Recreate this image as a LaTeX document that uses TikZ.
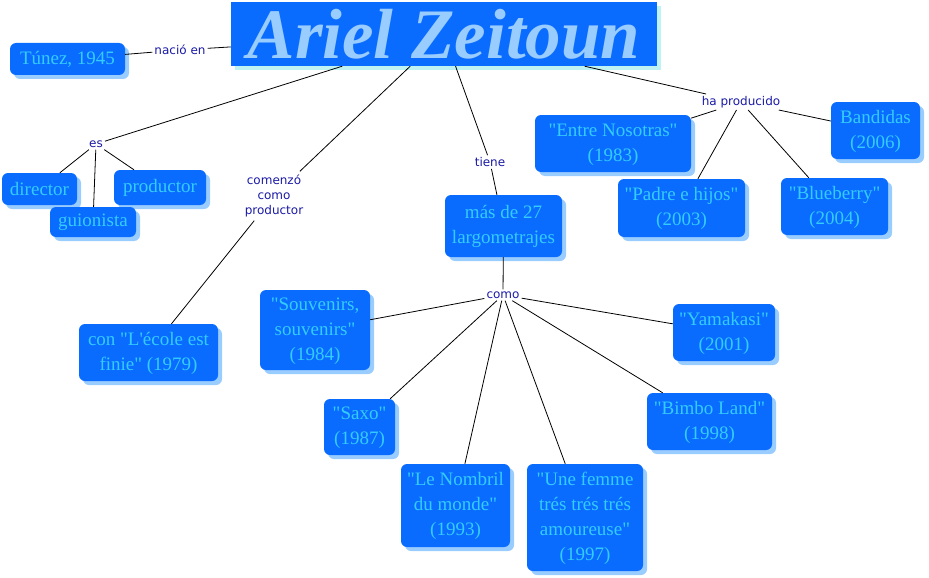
\documentclass[tikz,border=0pt]{standalone}
\usepackage{fontspec}
\setmainfont{Liberation Serif}
\newfontfamily\linkfont{DejaVu Sans}
\usetikzlibrary{shadows}
\definecolor{boxblue}{HTML}{0A6CFF}
\definecolor{textcyan}{HTML}{33CCFF}
\definecolor{shadeblue}{HTML}{99CCFF}
\definecolor{titleshade}{HTML}{BFF2F2}
\definecolor{titletext}{HTML}{99CCFF}
\definecolor{linkblue}{HTML}{1A1AA6}
\newcommand{\qt}{\textquotedbl}
\tikzset{
	concept/.style={fill=boxblue, text=textcyan, rounded corners=6pt, inner sep=0pt,
		font=\fontsize{19}{25}\selectfont,
		drop shadow={shadow xshift=4pt, shadow yshift=-4pt, fill=shadeblue, opacity=1}},
	linking/.style={text=linkblue, inner sep=2pt, font=\linkfont\fontsize{12}{15}\selectfont},
	joint/.style={line width=0.8pt, black},
}
\begin{document}
\begin{tikzpicture}[x=1pt, y=-1pt]
%			\draw[help lines] (0,0) grid (929,578);
			\useasboundingbox (0,0) rectangle (929,578);
			\node[fill=boxblue, text=titletext, minimum width=426pt, minimum height=64pt, inner sep=0pt,
				font=\fontsize{71}{72}\selectfont\bfseries\itshape,
				drop shadow={shadow xshift=4pt, shadow yshift=-4pt, fill=titleshade, opacity=1}] (title) at (444,34) {Ariel Zeitoun};
			\node[concept, minimum width=115pt, minimum height=32pt] (tunez) at (67.5,59) {Túnez, 1945};
			\node[concept, minimum width=75pt, minimum height=32pt] (director) at (39.5,189) {director};
			\node[concept, minimum width=92pt, minimum height=35pt] (productor) at (160,187.5) {productor};
			\node[concept, minimum width=86pt, minimum height=30pt] (guionista) at (93,222) {guionista};
			\node[concept, minimum width=139pt, minimum height=57pt] (ecole) at (148.5,352.5) {\begin{tabular}{c} con \qt L\textquotesingle école est \\ finie\qt{} (1979) \end{tabular}};
			\node[concept, minimum width=117pt, minimum height=62pt] (largos) at (503.5,226) {\begin{tabular}{c} más de 27 \\ largometrajes \end{tabular}};
			\node[concept, minimum width=110pt, minimum height=80pt] (souvenirs) at (315,330) {\begin{tabular}{c} \qt Souvenirs, \\ souvenirs\qt \\ (1984) \end{tabular}};
			\node[concept, minimum width=102pt, minimum height=57pt] (yamakasi) at (724,332.5) {\begin{tabular}{c} \qt Yamakasi\qt \\ (2001) \end{tabular}};
			\node[concept, minimum width=71pt, minimum height=56pt] (saxo) at (359.5,427) {\begin{tabular}{c} \qt Saxo\qt \\ (1987) \end{tabular}};
			\node[concept, minimum width=125pt, minimum height=57pt] (bimbo) at (709.5,421.5) {\begin{tabular}{c} \qt Bimbo Land\qt \\ (1998) \end{tabular}};
			\node[concept, minimum width=109pt, minimum height=83pt] (nombril) at (455.5,505.5) {\begin{tabular}{c} \qt Le Nombril \\ du monde\qt \\ (1993) \end{tabular}};
			\node[concept, minimum width=116pt, minimum height=107pt] (femme) at (585,517.5) {\begin{tabular}{c} \qt Une femme \\ trés trés trés \\ amoureuse\qt \\ (1997) \end{tabular}};
			\node[concept, minimum width=156pt, minimum height=57pt] (entre) at (613,143.5) {\begin{tabular}{c} \qt Entre Nosotras\qt \\ (1983) \end{tabular}};
			\node[concept, minimum width=127pt, minimum height=58pt] (padre) at (681.5,208) {\begin{tabular}{c} \qt Padre e hijos\qt \\ (2003) \end{tabular}};
			\node[concept, minimum width=107pt, minimum height=57pt] (blueberry) at (834.5,206.5) {\begin{tabular}{c} \qt Blueberry\qt \\ (2004) \end{tabular}};
			\node[concept, minimum width=89pt, minimum height=57pt] (bandidas) at (875.5,130.5) {\begin{tabular}{c} Bandidas \\ (2006) \end{tabular}};
			\node[linking] (nacio) at (180,50) {nació en};
			\node[linking] (es) at (96,144) {es};
			\node[linking] (comenzo) at (274,196) {\begin{tabular}{c} comenzó \\ como \\ productor \end{tabular}};
			\node[linking] (tiene) at (490,162) {tiene};
			\node[linking] (como) at (503,295) {como};
			\node[linking] (haprod) at (741,102) {ha producido};
			\draw[joint] (tunez) -- (nacio);
			\draw[joint] (nacio) -- (title);
			\draw[joint] (title) -- (es);
			\draw[joint] (es) -- (director);
			\draw[joint] (es) -- (guionista);
			\draw[joint] (es) -- (productor);
			\draw[joint] (title) -- (comenzo);
			\draw[joint] (comenzo) -- (ecole);
			\draw[joint] (title) -- (tiene);
			\draw[joint] (tiene) -- (largos);
			\draw[joint] (largos) -- (como);
			\draw[joint] (como) -- (souvenirs);
			\draw[joint] (como) -- (yamakasi);
			\draw[joint] (como) -- (saxo);
			\draw[joint] (como) -- (bimbo);
			\draw[joint] (como) -- (nombril);
			\draw[joint] (como) -- (femme);
			\draw[joint] (title) -- (haprod);
			\draw[joint] (haprod) -- (entre);
			\draw[joint] (haprod) -- (padre);
			\draw[joint] (haprod) -- (blueberry);
			\draw[joint] (haprod) -- (bandidas);
		\end{tikzpicture}
\end{document}
